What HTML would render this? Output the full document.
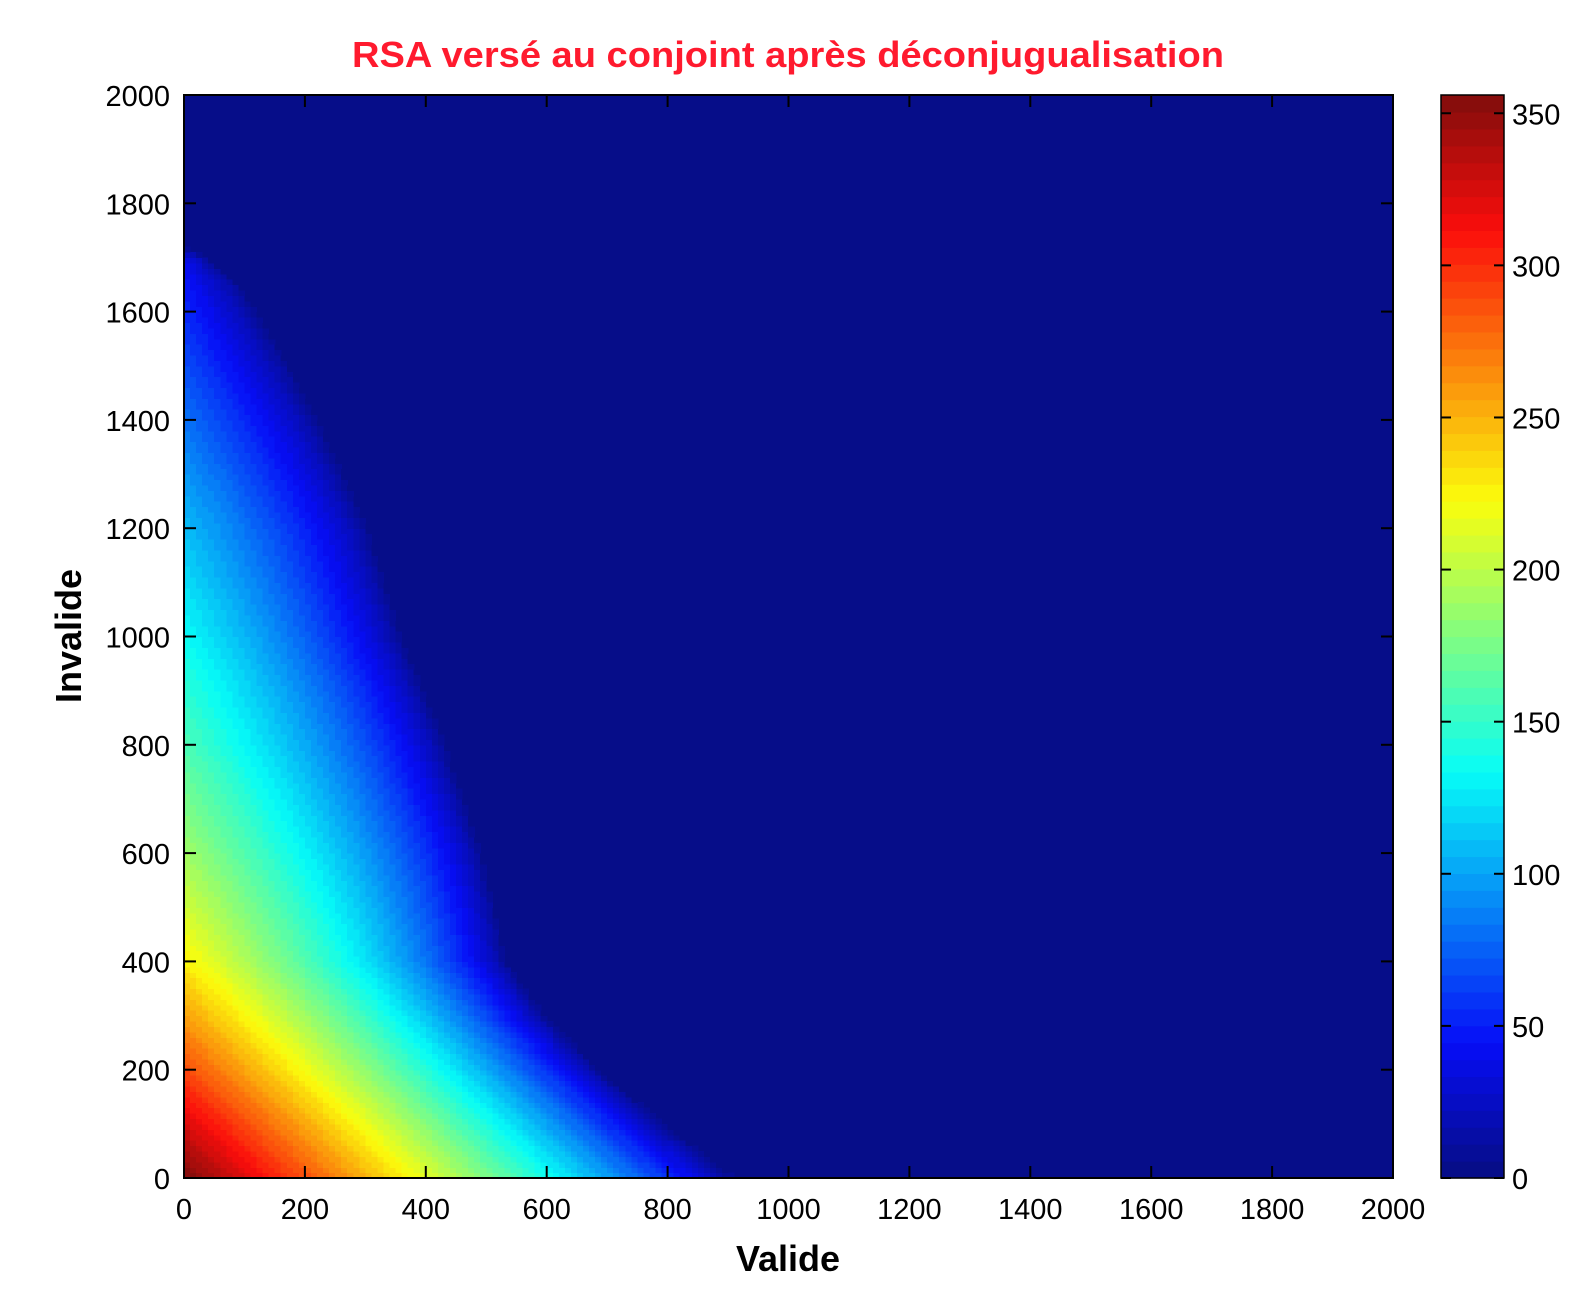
<!DOCTYPE html>
<html><head><meta charset="utf-8"><style>
body{margin:0;background:#fff;}
svg text{font-family:"Liberation Sans",Arial,sans-serif;}
</style></head><body>
<svg id="chart" width="1588" height="1298" xmlns="http://www.w3.org/2000/svg">
<text x="788" y="67" text-anchor="middle" font-size="36" font-weight="bold" fill="#ff1a2e" textLength="872" lengthAdjust="spacingAndGlyphs">RSA versé au conjoint après déconjugualisation</text>
<g id="cells" shape-rendering="crispEdges"></g>
<g id="axes"></g>
<g id="cbar"></g>
<text x="788" y="1271" text-anchor="middle" font-size="36" font-weight="bold">Valide</text>
<text transform="translate(81,636) rotate(-90)" text-anchor="middle" font-size="36" font-weight="bold">Invalide</text>
</svg>
<script>
const rowInvalide = [0,100,200,300,400,500,600,700,800,900,1000,1100,1200,1300,1400,1500,1600,1650,1700,1720];
const rowLeftValue = [358,325,290,258,228,208,190,175,160,148,135,122,110,96,82,68,55,48,40,0];
const rowZeroValide = [920,800,690,600,535,515,495,465,435,400,362,335,307,268,225,178,125,95,40,0];
const rowShape = [0.9,0.85,0.8,0.76,0.74,0.72,0.72,0.72,0.72,0.72,0.72,0.72,0.72,0.72,0.72,0.72,0.72,0.72,0.72,0.72];
const xTicks = [0,200,400,600,800,1000,1200,1400,1600,1800,2000];
const yTicks = [0,200,400,600,800,1000,1200,1400,1600,1800,2000];
const cTicks = [0,50,100,150,200,250,300,350];
const cMax = 356;

const NS="http://www.w3.org/2000/svg";
const X0=184,X1=1393,Y0=1178,Y1=95;
const xs=v=>X0+v/2000*(X1-X0);
const ys=v=>Y0-v/2000*(Y0-Y1);
const CB={x0:1441,x1:1504};
const cs=v=>Y0-v/cMax*(Y0-Y1);
function mk(t,a,p){const e=document.createElementNS(NS,t);for(const k in a)e.setAttribute(k,a[k]);p.appendChild(e);return e;}
function jet(v){
  let idx=Math.min(63,Math.max(0,Math.floor(v/cMax*64)));
  const t=(idx+0.5)/64;
  const f=x=>Math.max(0,Math.min(1,1.5-Math.abs(4*t-x)));
  const r=f(3),g=f(2),b=f(1);
  return `rgb(${Math.round(r*245+6)},${Math.round(g*240+13)},${Math.round(b*235+12)})`;
}
function valueAt(v,i){
  if(i>=rowInvalide[rowInvalide.length-1])return 0;
  let k=0;while(k<rowInvalide.length-2&&rowInvalide[k+1]<=i)k++;
  const t=(i-rowInvalide[k])/(rowInvalide[k+1]-rowInvalide[k]);
  const L=rowLeftValue[k]+(rowLeftValue[k+1]-rowLeftValue[k])*t;
  const Z=rowZeroValide[k]+(rowZeroValide[k+1]-rowZeroValide[k])*t;
  const P=rowShape[k]+(rowShape[k+1]-rowShape[k])*t;
  if(Z<=0||v>=Z)return 0;
  return L*Math.pow(1-v/Z,P);
}
const cells=document.getElementById('cells');
const bg=mk('rect',{x:X0,y:Y1,width:X1-X0,height:Y0-Y1,fill:jet(0)},cells);


const step=10;
for(let i=0;i<2000;i+=step){for(let v=0;v<2000;v+=step){
  const val=valueAt(v+step/2,i+step/2);
  if(val<=0)continue;
  const r=mk('rect',{x:xs(v).toFixed(2),y:ys(i+step).toFixed(2),width:(xs(v+step)-xs(v)+0.6).toFixed(2),height:(ys(i)-ys(i+step)+0.6).toFixed(2),fill:jet(val)},cells);
  
  
}}
const ax=document.getElementById('axes');
const frame=mk('rect',{x:X0,y:Y1,width:X1-X0,height:Y0-Y1,fill:'none',stroke:'#000','stroke-width':2},ax);


xTicks.forEach(t=>{
  const x=xs(t);
  mk('line',{x1:x,x2:x,y1:Y0,y2:Y0-12,stroke:'#000','stroke-width':2},ax);
  mk('line',{x1:x,x2:x,y1:Y1,y2:Y1+12,stroke:'#000','stroke-width':2},ax);
  const tx=mk('text',{x:x,y:1219,'text-anchor':'middle','font-size':29},ax);
  tx.textContent=t;
  
  
});
yTicks.forEach(t=>{
  const y=ys(t);
  mk('line',{x1:X0,x2:X0+12,y1:y,y2:y,stroke:'#000','stroke-width':2},ax);
  mk('line',{x1:X1,x2:X1-12,y1:y,y2:y,stroke:'#000','stroke-width':2},ax);
  const tx=mk('text',{x:170,y:y+11,'text-anchor':'end','font-size':29},ax);
  tx.textContent=t;
  
  
});
const cb=document.getElementById('cbar');
for(let k=0;k<64;k++){
  const a=k/64*cMax,b=(k+1)/64*cMax;
  const r=mk('rect',{x:CB.x0,y:cs(b).toFixed(2),width:CB.x1-CB.x0,height:(cs(a)-cs(b)+0.6).toFixed(2),fill:jet((a+b)/2)},cb);
  
  
}
mk('rect',{x:CB.x0,y:Y1,width:CB.x1-CB.x0,height:Y0-Y1,fill:'none',stroke:'#000','stroke-width':1.5},cb);
cTicks.forEach(t=>{
  const y=cs(t);
  mk('line',{x1:CB.x0,x2:CB.x0+10,y1:y,y2:y,stroke:'#000','stroke-width':2},cb);
  mk('line',{x1:CB.x1,x2:CB.x1-10,y1:y,y2:y,stroke:'#000','stroke-width':2},cb);
  const tx=mk('text',{x:1512,y:y+11,'font-size':29},cb);
  tx.textContent=t;
  
  
});
</script>
</body></html>
